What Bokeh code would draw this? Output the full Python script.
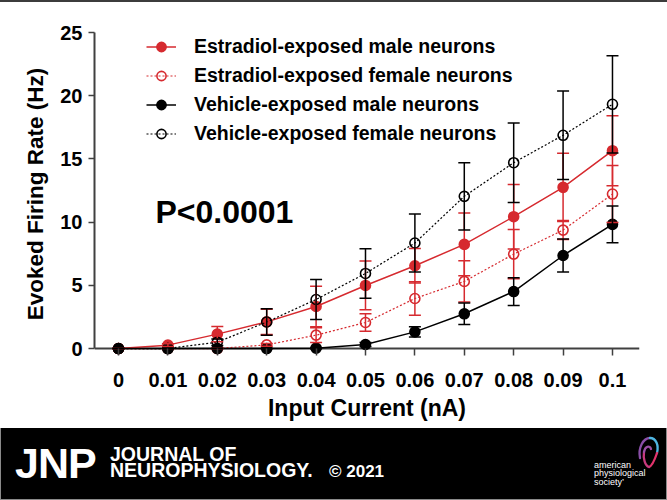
from bokeh.plotting import figure
from bokeh.models import (Range1d, Span, Whisker, ColumnDataSource, Legend, LegendItem,
                          Label, FixedTicker, TeeHead, Div)
from bokeh.layouts import column
from bokeh.embed import file_html
from bokeh.resources import INLINE

# ---------------- data ----------------
input_current = [0, 0.01, 0.02, 0.03, 0.04, 0.05, 0.06, 0.07, 0.08, 0.09, 0.1]
x_tick_labels = ["0", "0.01", "0.02", "0.03", "0.04", "0.05", "0.06", "0.07", "0.08", "0.09", "0.1"]
y_ticks = [0, 5, 10, 15, 20, 25]

series_names = ["Estradiol-exposed male neurons", "Estradiol-exposed female neurons",
                "Vehicle-exposed male neurons", "Vehicle-exposed female neurons"]

est_male = [0, 0.27, 1.14, 2.11, 3.33, 4.99, 6.55, 8.24, 10.43, 12.75, 15.65]
est_male_err = [0, 0.1, 0.6, 1.0, 1.6, 1.93, 1.37, 2.48, 2.55, 2.7, 2.77]
est_female = [0, 0, 0, 0.29, 1.06, 2.06, 3.96, 5.31, 7.47, 9.37, 12.22]
est_female_err = [0, 0, 0, 0.1, 0.58, 0.7, 1.32, 1.63, 1.95, 0.75, 2.25]
veh_male = [0, 0, 0, 0, 0.03, 0.32, 1.32, 2.75, 4.51, 7.36, 9.82]
veh_male_err = [0, 0, 0, 0, 0.05, 0.15, 0.4, 0.85, 1.1, 1.3, 1.45]
veh_female = [0, 0, 0.5, 2.1, 3.88, 5.94, 8.35, 12.04, 14.7, 16.87, 19.32]
veh_female_err = [0, 0, 0.25, 1.05, 1.58, 1.96, 2.29, 2.66, 3.14, 3.5, 3.85]

RED = "#d62a2f"
BLACK = "#000000"
AXIS = "#404040"
FONT = "Liberation Sans"

W = 667
TOP_H = 2
MAIN_H = 426
FOOT_H = 72
FRAME_L = 94
FRAME_R = 639

# ---------------- thin top rule ----------------
top_rule = Div(text="", width=W, height=TOP_H, margin=0,
               styles={"background-color": "#3c3c3c"})

# ---------------- main chart ----------------
p = figure(width=W, height=MAIN_H, output_backend="svg", toolbar_location=None,
           x_range=Range1d(-0.00486, 0.10547), y_range=Range1d(-0.55, 25),
           min_border_left=FRAME_L, min_border_right=W - FRAME_R,
           min_border_top=30, min_border_bottom=73)
p.outline_line_color = None
p.grid.visible = False
p.background_fill_color = "white"
p.border_fill_color = "white"

xa = p.xaxis[0]
xa.ticker = FixedTicker(ticks=input_current)
xa.major_label_overrides = {v: s for v, s in zip(input_current, x_tick_labels)}
xa.axis_line_color = None
xa.major_tick_in = 7
xa.major_tick_out = 0
xa.major_tick_line_width = 1.5
xa.major_tick_line_color = AXIS
xa.minor_tick_line_color = None
xa.major_label_standoff = 17
xa.major_label_text_font = FONT
xa.major_label_text_font_size = "20px"
xa.major_label_text_font_style = "bold"
xa.major_label_text_color = "black"
xa.axis_label = "Input Current (nA)"
xa.axis_label_text_font = FONT
xa.axis_label_text_font_size = "23px"
xa.axis_label_text_font_style = "bold"
xa.axis_label_text_color = "black"
xa.axis_label_standoff = 5

ya = p.yaxis[0]
ya.ticker = FixedTicker(ticks=y_ticks)
ya.bounds = (0, 25)
ya.axis_line_color = AXIS
ya.axis_line_width = 2
ya.major_tick_out = 6
ya.major_tick_in = 0
ya.major_tick_line_width = 1.5
ya.major_tick_line_color = AXIS
ya.minor_tick_line_color = None
ya.major_label_standoff = 6
ya.major_label_text_font = FONT
ya.major_label_text_font_size = "20px"
ya.major_label_text_font_style = "bold"
ya.major_label_text_color = "black"
ya.axis_label = "Evoked Firing Rate (Hz)"
ya.axis_label_text_font = FONT
ya.axis_label_text_font_size = "22.5px"
ya.axis_label_text_font_style = "bold"
ya.axis_label_text_color = "black"
ya.axis_label_standoff = 9

zero_line = Span(location=0, dimension="width", line_color=AXIS, line_width=2, level="underlay")
p.add_layout(zero_line)

specs = [
    (est_female, est_female_err, RED, "2 2", False),
    (est_male, est_male_err, RED, None, True),
    (veh_male, veh_male_err, BLACK, None, True),
    (veh_female, veh_female_err, BLACK, "2 2", False),
]
legend_order = [1, 0, 2, 3]
rends = []
for ys, err, col, dash, filled in specs:
    src = ColumnDataSource(dict(
        x=input_current, y=ys,
        upper=[a + b for a, b in zip(ys, err)],
        lower=[a - b for a, b in zip(ys, err)],
    ))
    wh = Whisker(source=src, base="x", upper="upper", lower="lower", dimension="height",
                 line_color=col, line_width=1.5, level="glyph",
                 upper_head=TeeHead(size=12, line_color=col, line_width=1.5),
                 lower_head=TeeHead(size=12, line_color=col, line_width=1.5))
    p.add_layout(wh)
    lkw = dict(line_color=col, line_width=1.5 if dash is None else 1.2)
    if dash is not None:
        lkw["line_dash"] = dash
    lr = p.line("x", "y", source=src, **lkw)
    sr = p.scatter("x", "y", source=src, marker="circle", size=10,
                   fill_color=col if filled else None, line_color=col, line_width=1.6)
    rends.append((lr, sr))

items = [LegendItem(label=series_names[i], renderers=list(rends[legend_order[i]]))
         for i in range(4)]
legend = Legend(items=items, location=(52, 210), border_line_color=None,
                background_fill_alpha=0, padding=0, margin=0, spacing=6,
                glyph_width=30, glyph_height=23, label_height=23, label_standoff=18,
                label_text_font=FONT, label_text_font_size="19.5px",
                label_text_font_style="bold", label_text_color="black")
p.add_layout(legend)

p.add_layout(Label(x=61, y=144, x_units="screen", y_units="screen", text="P<0.0001",
                   text_font=FONT, text_font_size="32px", text_font_style="bold",
                   text_baseline="middle", text_color="black"))

# ---------------- footer band (journal banner) ----------------
# (html text, left px, top px inside band, size px, weight, line height)
footer_texts = [
    ("JNP", 14, 17.7, 43, "bold", "0.8"),
    ("JOURNAL OF<br>NEUROPHYSIOLOGY.", 109, 18.2, 19.5, "bold", "16px"),
    ("\u00a9 2021", 328, 36.7, 17, "bold", "0.8"),
    ("american<br>physiological<br>society\u2019", 593, 32.9, 9, "normal", "8.5px"),
]
spans = "".join(
    f'<span style="position:absolute;left:{x}px;top:{y}px;font-size:{fs}px;'
    f'font-weight:{wt};line-height:{lh};white-space:nowrap;color:#fff;'
    f"font-family:'{FONT}';letter-spacing:{'-1px' if fs > 40 else '0'}\">{txt}</span>"
    for txt, x, y, fs, wt, lh in footer_texts
)
logo_svg = (
    '<svg style="position:absolute;left:630px;top:0px" width="36" height="44" '
    'viewBox="0 0 36 44" xmlns="http://www.w3.org/2000/svg" fill="none" '
    'stroke-width="2.3" stroke-linecap="round">'
    '<path d="M9,30 C7,20 12,10 19,10" stroke="#8a4fa8"/>'
    '<path d="M19,10 C25,10 28,17 26,25" stroke="#4fb6e3"/>'
    '<path d="M26,25 C24,31 21,38 18,39" stroke="#e2336c"/>'
    '<path d="M18,39 C14,38 12,30 13,24" stroke="#c83a7e"/>'
    '<path d="M13,24 C14,18 19,17 20,21" stroke="#9b4fa6"/>'
    '</svg>'
)
footer_html = (
    f'<div style="position:relative;width:{W}px;height:{FOOT_H}px;background:#000;'
    f'overflow:hidden;box-sizing:border-box;border-left:1px solid #8a8a8a;'
    f'border-right:1px solid #8a8a8a;border-bottom:1px solid #8a8a8a">'
    f'{spans}{logo_svg}</div>'
)
footer = Div(text=footer_html, width=W, height=FOOT_H, margin=0,
             styles={"background-color": "black"})

layout = column(top_rule, p, footer, spacing=0)
open("out.html", "w").write(file_html(layout, INLINE))
